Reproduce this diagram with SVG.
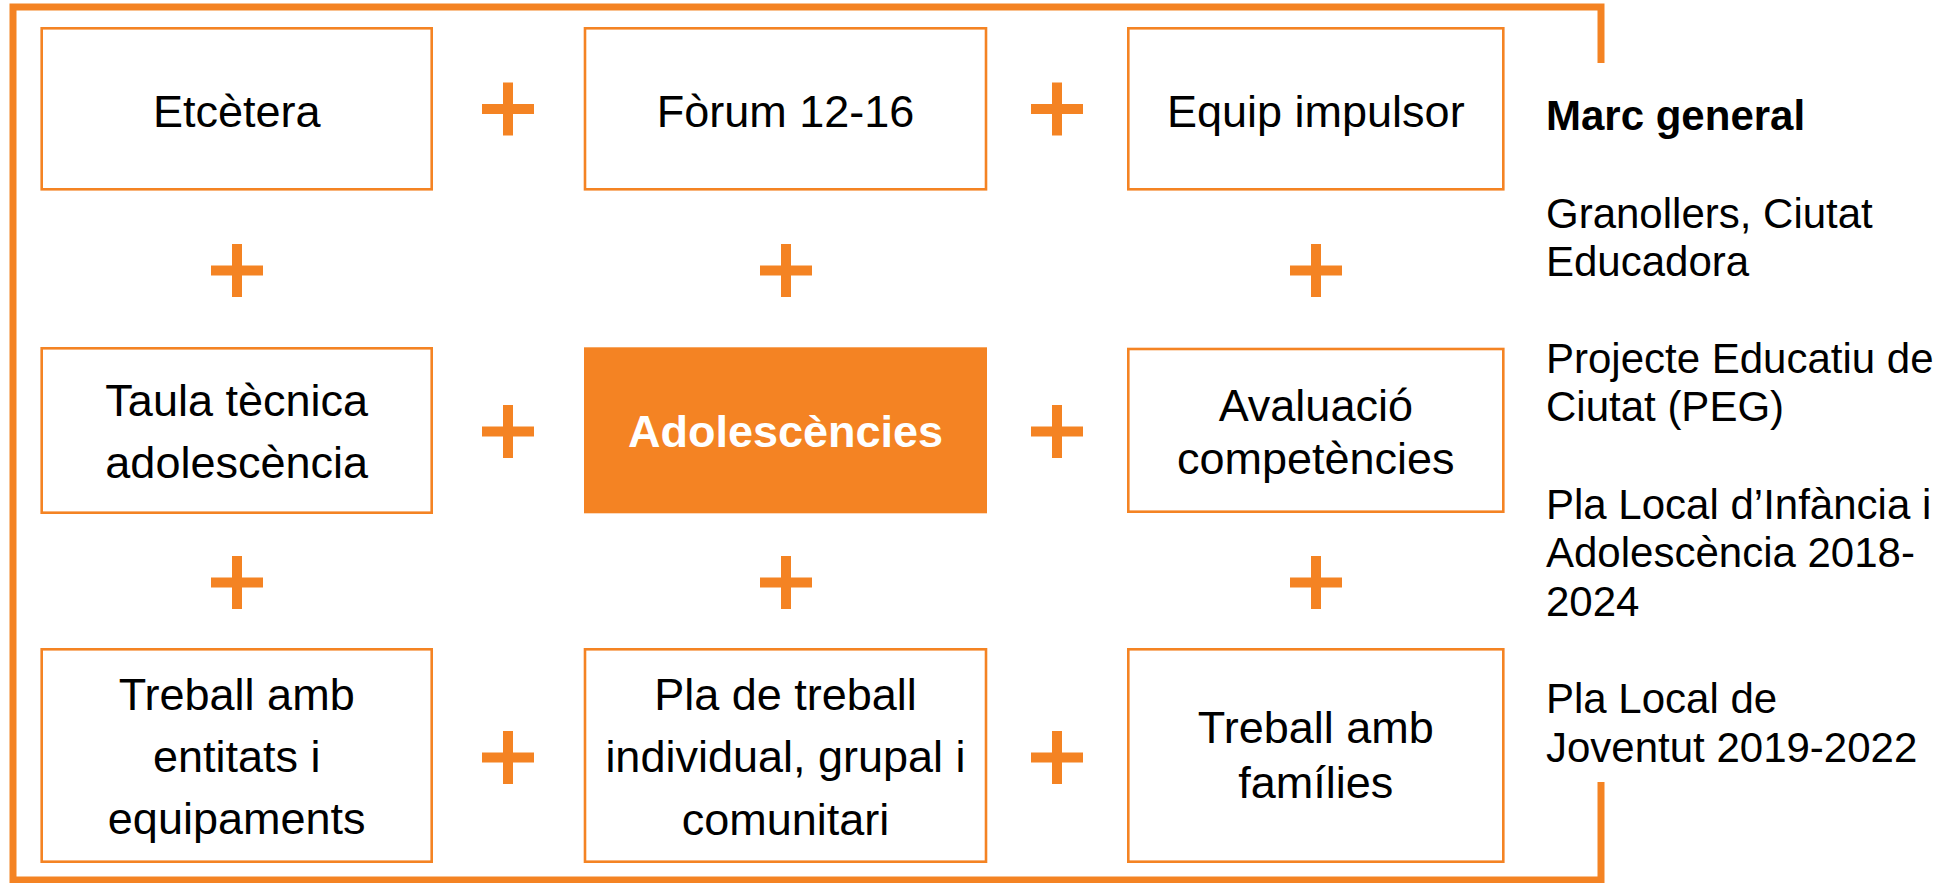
<svg xmlns="http://www.w3.org/2000/svg" xmlns:xlink="http://www.w3.org/1999/xlink" width="1951" height="883" viewBox="0 0 1951 883">
<style>
  .box { fill: #ffffff; stroke: #F48323; stroke-width: 2.6; }
  .core { fill: #F48323; stroke: none; }
  .t { font-family: "Liberation Sans", Arial, sans-serif; font-size: 45px; fill: #000000; text-anchor: middle; }
  .tc { font-family: "Liberation Sans", Arial, sans-serif; font-size: 45px; font-weight: bold; fill: #ffffff; text-anchor: middle; }
  .side { font-family: "Liberation Sans", Arial, sans-serif; font-size: 42px; fill: #000000; }
  .sideb { font-weight: bold; }
  .frame { fill: none; stroke: #F48323; stroke-width: 7; }
  .plus { fill: #F48323; }
</style>
<defs>
  <g id="plus">
    <rect class="plus" x="-26" y="-5" width="52" height="10"/>
    <rect class="plus" x="-5" y="-26.5" width="10" height="53"/>
  </g>
</defs>
<rect x="0" y="0" width="1951" height="883" fill="#ffffff"/>

<g id="frame">
  <path class="frame" d="M1601,63 V7 H13 V880 H1601 V782"/>
</g>

<g id="connectors">
  <use xlink:href="#plus" href="#plus" x="508" y="109"/>
  <use xlink:href="#plus" href="#plus" x="1057" y="109"/>
  <use xlink:href="#plus" href="#plus" x="508" y="431.5"/>
  <use xlink:href="#plus" href="#plus" x="1057" y="431.5"/>
  <use xlink:href="#plus" href="#plus" x="508" y="757.5"/>
  <use xlink:href="#plus" href="#plus" x="1057" y="757.5"/>
  <use xlink:href="#plus" href="#plus" x="237" y="270.5"/>
  <use xlink:href="#plus" href="#plus" x="786" y="270.5"/>
  <use xlink:href="#plus" href="#plus" x="1316" y="270.5"/>
  <use xlink:href="#plus" href="#plus" x="237" y="582.5"/>
  <use xlink:href="#plus" href="#plus" x="786" y="582.5"/>
  <use xlink:href="#plus" href="#plus" x="1316" y="582.5"/>
</g>

<g id="etcetera">
  <rect class="box" x="41.7" y="28.3" width="390" height="161"/>
  <text class="t" x="236.7" y="126.7">Etcètera</text>
</g>
<g id="forum">
  <rect class="box" x="585" y="28.3" width="401" height="161"/>
  <text class="t" x="785.5" y="126.7">Fòrum 12-16</text>
</g>
<g id="equip">
  <rect class="box" x="1128.3" y="28.3" width="375" height="161"/>
  <text class="t" x="1315.8" y="126.7">Equip impulsor</text>
</g>

<g id="taula">
  <rect class="box" x="41.7" y="348.3" width="390" height="164.4"/>
  <text class="t" x="236.7" y="416">Taula tècnica</text>
  <text class="t" x="236.7" y="478.3">adolescència</text>
</g>
<g id="adolescencies">
  <rect class="core" x="584" y="347.3" width="403" height="166"/>
  <text class="tc" x="785.5" y="447.3">Adolescències</text>
</g>
<g id="avaluacio">
  <rect class="box" x="1128.3" y="349" width="375" height="162.7"/>
  <text class="t" x="1315.8" y="420.7">Avaluació</text>
  <text class="t" x="1315.8" y="474">competències</text>
</g>

<g id="entitats">
  <rect class="box" x="41.7" y="649.3" width="390" height="212.4"/>
  <text class="t" x="236.7" y="710">Treball amb</text>
  <text class="t" x="236.7" y="771.7">entitats i</text>
  <text class="t" x="236.7" y="834">equipaments</text>
</g>
<g id="pla-treball">
  <rect class="box" x="585" y="649.3" width="401" height="212.4"/>
  <text class="t" x="785.5" y="710">Pla de treball</text>
  <text class="t" x="785.5" y="772.3">individual, grupal i</text>
  <text class="t" x="785.5" y="835">comunitari</text>
</g>
<g id="families">
  <rect class="box" x="1128.3" y="649.3" width="375" height="212.4"/>
  <text class="t" x="1315.8" y="743">Treball amb</text>
  <text class="t" x="1315.8" y="798">famílies</text>
</g>

<g id="marc-general">
  <text class="side sideb" x="1546" y="130">Marc general</text>
  <text class="side" x="1546" y="228.3">Granollers, Ciutat</text>
  <text class="side" x="1546" y="276">Educadora</text>
  <text class="side" x="1546" y="372.7">Projecte Educatiu de</text>
  <text class="side" x="1546" y="420.7">Ciutat (PEG)</text>
  <text class="side" x="1546" y="519.3">Pla Local d’Infància i</text>
  <text class="side" x="1546" y="567.3">Adolescència 2018-</text>
  <text class="side" x="1546" y="616">2024</text>
  <text class="side" x="1546" y="713.3">Pla Local de</text>
  <text class="side" x="1546" y="761.7">Joventut 2019-2022</text>
</g>
</svg>
